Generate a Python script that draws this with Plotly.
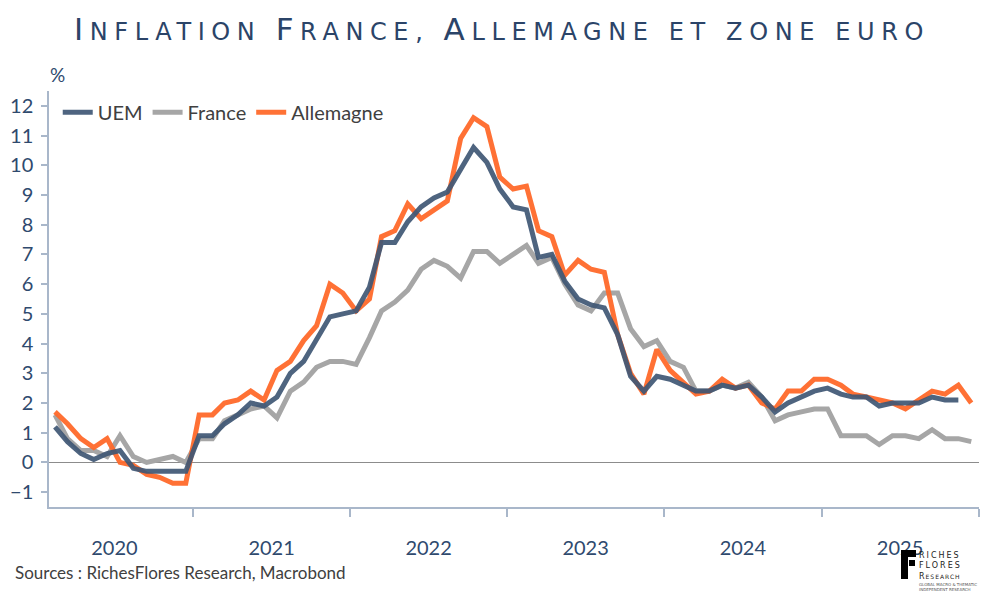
import pandas as pd
import plotly.graph_objects as go

# Monthly HICP inflation, % y/y, Feb 2020 -> Dec 2025
uem = [1.2, 0.7, 0.3, 0.1, 0.3, 0.4, -0.2, -0.3, -0.3, -0.3, -0.3,
       0.9, 0.9, 1.3, 1.6, 2.0, 1.9, 2.2, 3.0, 3.4, 4.1, 4.9, 5.0,
       5.1, 5.9, 7.4, 7.4, 8.1, 8.6, 8.9, 9.1, 9.9, 10.6, 10.1, 9.2,
       8.6, 8.5, 6.9, 7.0, 6.1, 5.5, 5.3, 5.2, 4.3, 2.9, 2.4, 2.9,
       2.8, 2.6, 2.4, 2.4, 2.6, 2.5, 2.6, 2.2, 1.7, 2.0, 2.2, 2.4,
       2.5, 2.3, 2.2, 2.2, 1.9, 2.0, 2.0, 2.0, 2.2, 2.1, 2.1]

france = [1.6, 0.8, 0.4, 0.4, 0.2, 0.9, 0.2, 0.0, 0.1, 0.2, 0.0,
          0.8, 0.8, 1.4, 1.6, 1.8, 1.9, 1.5, 2.4, 2.7, 3.2, 3.4, 3.4,
          3.3, 4.2, 5.1, 5.4, 5.8, 6.5, 6.8, 6.6, 6.2, 7.1, 7.1, 6.7,
          7.0, 7.3, 6.7, 6.9, 6.0, 5.3, 5.1, 5.7, 5.7, 4.5, 3.9, 4.1,
          3.4, 3.2, 2.4, 2.4, 2.6, 2.5, 2.7, 2.2, 1.4, 1.6, 1.7, 1.8,
          1.8, 0.9, 0.9, 0.9, 0.6, 0.9, 0.9, 0.8, 1.1, 0.8, 0.8, 0.7]

allemagne = [1.7, 1.3, 0.8, 0.5, 0.8, 0.0, -0.1, -0.4, -0.5, -0.7, -0.7,
             1.6, 1.6, 2.0, 2.1, 2.4, 2.1, 3.1, 3.4, 4.1, 4.6, 6.0, 5.7,
             5.1, 5.5, 7.6, 7.8, 8.7, 8.2, 8.5, 8.8, 10.9, 11.6, 11.3, 9.6,
             9.2, 9.3, 7.8, 7.6, 6.3, 6.8, 6.5, 6.4, 4.3, 3.0, 2.3, 3.8,
             3.1, 2.7, 2.3, 2.4, 2.8, 2.5, 2.6, 2.0, 1.8, 2.4, 2.4, 2.8,
             2.8, 2.6, 2.3, 2.2, 2.1, 2.0, 1.8, 2.1, 2.4, 2.3, 2.6, 2.0]

months = pd.date_range("2020-02-01", periods=len(allemagne), freq="MS") + pd.Timedelta(days=14)

series_names = ["UEM", "France", "Allemagne"]
y_ticks = list(range(-1, 13))

TITLE = "Inflation France, Allemagne et zone euro"
SOURCE = "Sources : RichesFlores Research, Macrobond"

NAVY = "#2B4468"
TICK_COL = "#2F4A6E"
AXIS_COL = "#A9B7CA"

# The page body has an 8px default margin: size the figure to fill the rest of the window.
OFF = 8
W, H = 1000 - OFF, 600 - OFF
# plot area in window pixels: x 49..979, y 91..507
L, T = 49 - OFF, 91 - OFF
R = W - (979 - OFF)
B = H - (507 - OFF)
PW, PH = W - L - R, H - T - B


def px(x):  # window pixel -> paper x
    return (x - OFF - L) / PW


def py(y):  # window pixel -> paper y
    return (H - B - (y - OFF)) / PH


def small_caps(text, big=31, small=24, spacing=6.6):
    out = []
    for ch in text:
        if ch.isupper():
            size, c = big, ch
        elif ch.isalpha():
            size, c = small, ch.upper()
        else:
            size, c = small, ch
        out.append(f'<span style="font-size:{size}px;letter-spacing:{spacing}px">{c}</span>')
    return "".join(out)


fig = go.Figure()
fig.add_trace(go.Scatter(x=months, y=france, name=series_names[1], mode="lines",
                         line=dict(color="#A6A6A6", width=5), legendrank=2))
fig.add_trace(go.Scatter(x=months, y=allemagne, name=series_names[2], mode="lines",
                         line=dict(color="#FF6A2B", width=5), opacity=0.95, legendrank=3))
fig.add_trace(go.Scatter(x=months[:len(uem)], y=uem, name=series_names[0], mode="lines",
                         line=dict(color="#3F5775", width=5), opacity=0.92, legendrank=1))

fig.update_layout(
    width=W, height=H,
    paper_bgcolor="white", plot_bgcolor="white",
    margin=dict(l=L, r=R, t=T, b=B, autoexpand=False),
    font=dict(family="Lato, Open Sans, sans-serif", color="#404040"),
    showlegend=True,
    legend=dict(orientation="h", x=0.0094, y=0.996, xanchor="left", yanchor="top",
                font=dict(size=20, color="#404040"), bgcolor="rgba(0,0,0,0)",
                itemwidth=30, traceorder="normal"),
)

fig.update_xaxes(
    type="date", automargin=False,
    range=["2020-02-01", "2026-01-02"],
    dtick="M12", tick0="2020-01-01",
    ticklabelmode="period",
    tickformat="%Y",
    ticks="outside", ticklen=8, tickcolor=AXIS_COL, tickwidth=1.5,
    showline=True, linecolor=AXIS_COL, linewidth=1.5,
    showgrid=False, zeroline=False,
    tickfont=dict(size=20, color=TICK_COL, family="Lato"),
    ticklabelstandoff=14,
)
fig.update_yaxes(
    automargin=False,
    range=[-1.5, 12.5],
    tickvals=y_ticks,
    ticks="outside", ticklen=6, tickcolor=AXIS_COL, tickwidth=1.5,
    showline=True, linecolor=AXIS_COL, linewidth=1.5,
    showgrid=False,
    zeroline=True, zerolinecolor="#8C8C8C", zerolinewidth=1,
    tickfont=dict(size=20, color=TICK_COL, family="Lato"),
    ticklabelstandoff=4,
)

# title (small caps emulation)
fig.add_annotation(text=small_caps(TITLE), xref="paper", yref="paper",
                   x=px(502), y=py(29), xanchor="center", yanchor="middle", showarrow=False,
                   font=dict(family="DejaVu Sans", size=24, color=NAVY))
# "%" unit label
fig.add_annotation(text="%", xref="paper", yref="paper", x=px(57), y=py(75),
                   xanchor="center", yanchor="middle", showarrow=False,
                   font=dict(size=19, color=TICK_COL, family="Lato"))
# source
fig.add_annotation(text=SOURCE, xref="paper", yref="paper", x=px(13), y=py(572),
                   yanchor="middle", xanchor="left", showarrow=False,
                   font=dict(size=17, color="#404040", family="Lato"))

# logo (decorative)
F_path = ("M {a} {b} L {c} {b} L {c} {d} L {e} {d} L {e} {f} L {a} {f} Z").format(
    a=px(901), b=py(550), c=px(916), d=py(557), e=px(908), f=py(579))
fig.add_shape(type="path", xref="paper", yref="paper", path=F_path,
              fillcolor="black", line=dict(width=0))
fig.add_shape(type="path", xref="paper", yref="paper",
              path="M {a} {b} L {c} {b} L {c} {d} L {a} {d} Z".format(
                  a=px(909), b=py(560), c=px(915), d=py(566)),
              fillcolor="black", line=dict(width=0))
fig.add_annotation(
    text=("<span style='letter-spacing:2px'>RICHES</span><br>"
          "<span style='letter-spacing:2px'>FLORES</span><br>"
          "<span style='letter-spacing:1px'>R</span>"
          "<span style='font-size:6px;letter-spacing:1px'>ESEARCH</span>"),
    xref="paper", yref="paper", x=px(917), y=py(549), xanchor="left", yanchor="top",
    align="left", showarrow=False,
    font=dict(size=8, color="#222222", family="DejaVu Sans"))
fig.add_annotation(text="GLOBAL MACRO &amp; THEMATIC<br>INDEPENDENT RESEARCH",
                   xref="paper", yref="paper", x=px(917), y=py(580), xanchor="left",
                   yanchor="top", align="left", showarrow=False,
                   font=dict(size=4, color="#555555", family="DejaVu Sans"))

fig.write_html("out.html")
